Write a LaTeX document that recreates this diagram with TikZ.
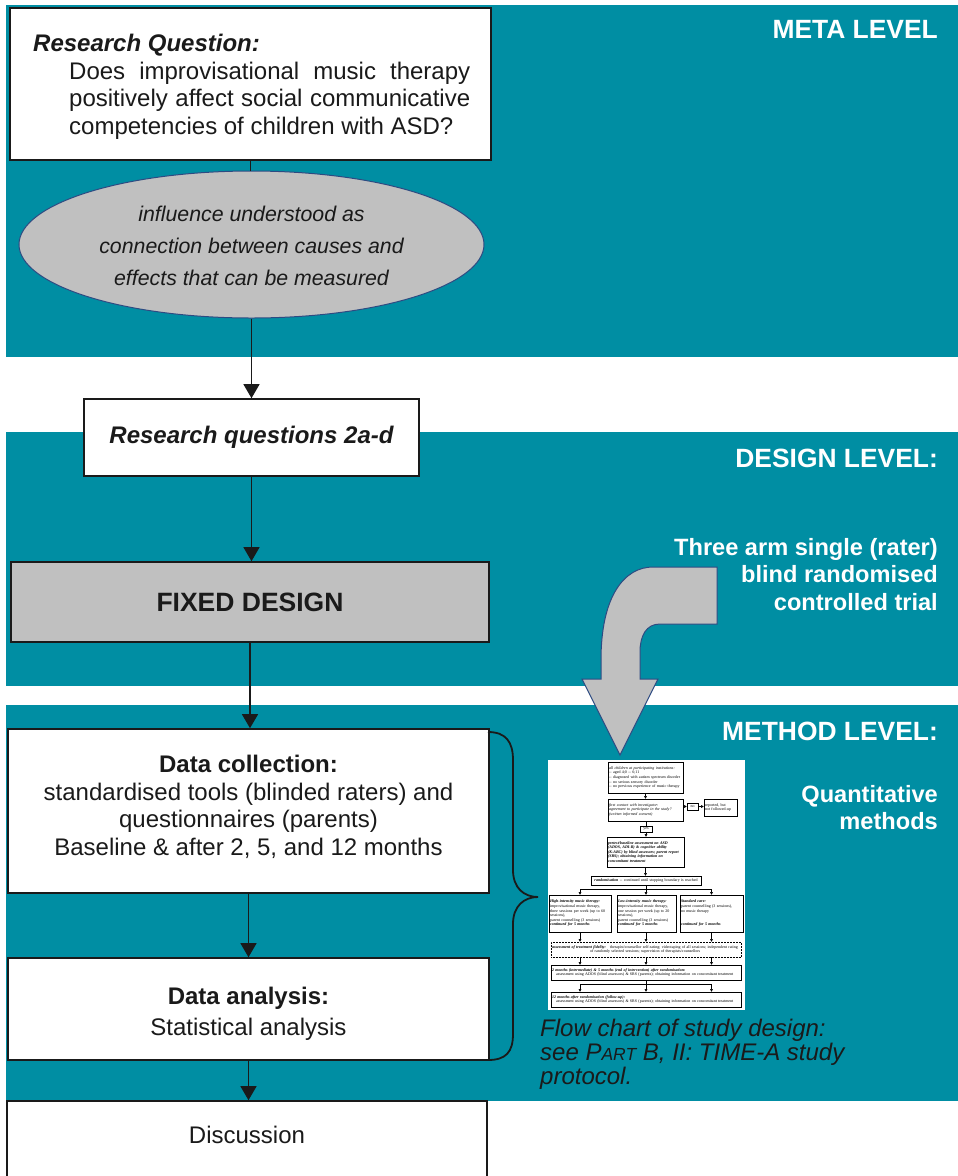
\documentclass[tikz,border=0pt]{standalone}
\usepackage{fontspec}
\setmainfont{Liberation Sans}
\newfontfamily\serifft{Liberation Serif}
\usetikzlibrary{shapes.geometric,arrows.meta}
\definecolor{tealbg}{RGB}{0,142,163}
\definecolor{grayfill}{RGB}{192,192,192}
\definecolor{edgeblue}{RGB}{45,75,130}
\definecolor{ink}{RGB}{26,26,26}
\newcommand\fsz[2]{\fontsize{#1}{#2}\selectfont}
\tikzset{
  band/.style={fill=tealbg, draw=none},
  box/.style={draw=ink, line width=1.6pt, fill=white, inner sep=0pt, align=center, text=ink, font=\fsz{24}{27.5}},
  lvl/.style={text=white, anchor=base east, inner sep=0pt, font=\bfseries\fsz{26.4}{30}},
  sublvl/.style={text=white, anchor=base east, inner sep=0pt, align=right, font=\bfseries\fsz{23.6}{27.5}},
  conn/.style={line width=1.3pt, draw=ink},
  arr/.style={conn, -{Triangle[width=16pt,length=14pt]}},
  fc/.style={draw=black, line width=0.5pt, fill=white, inner sep=1pt, font=\serifft\fsz{4}{4.6}, align=left, anchor=center},
  fca/.style={line width=0.45pt, draw=black, -{Triangle[width=2.6pt,length=2.6pt]}},
  fcl/.style={line width=0.45pt, draw=black},
  txt/.style={inner sep=0pt, text=ink},
}
\begin{document}
\begin{tikzpicture}[x=1pt,y=-1pt]
\useasboundingbox (0,0) rectangle (958,1176);
\clip (0,0) rectangle (958,1176);
\fill[white] (0,0) rectangle (958,1176);
% bands
\fill[band] (6,5) rectangle (958,357);
\fill[band] (6,432) rectangle (958,686);
\fill[band] (6,705) rectangle (958,1101);

% level labels
\node[lvl] (lmeta) at (938,38) {META LEVEL};
\node[lvl] (ldesign) at (938,467) {DESIGN LEVEL:};
\node[sublvl] (l3arm1) at (938,555) {Three arm single (rater)};
\node[sublvl] (l3arm2) at (938,582.5) {blind randomised};
\node[sublvl] (l3arm3) at (938,610) {controlled trial};
\node[lvl] (lmethod) at (938,740) {METHOD LEVEL:};
\node[sublvl] (lq1) at (938,802) {Quantitative};
\node[sublvl] (lq2) at (938,829) {methods};

% research question box
\node[box, minimum width=481, minimum height=152] (rq) at (250.5,84) {};
\node[txt, anchor=base west, font=\bfseries\itshape\fsz{24}{27.5}] (rqh) at (33,51) {Research Question:};
\node[txt, anchor=base west, font=\fsz{24}{27.5}] (rqa) at (69,79) {\makebox[401pt][s]{Does improvisational music therapy}};
\node[txt, anchor=base west, font=\fsz{24}{27.5}] (rqb) at (69,106.5) {\makebox[401pt][s]{positively affect social communicative}};
\node[txt, anchor=base west, font=\fsz{24}{27.5}] (rqc) at (69,134) {competencies of children with ASD?};

% ellipse
\node[ellipse, draw=edgeblue, line width=1pt, fill=grayfill, minimum width=465, minimum height=147, inner sep=0pt] (ell) at (251.5,244.5) {};
\node[txt, align=center, font=\itshape\fsz{21.3}{32}] (ellt) at (251.5,246) {influence understood as\\connection between causes and\\effects that can be measured};

% research questions 2a-d
\node[box, minimum width=335, minimum height=77, font=\bfseries\itshape\fsz{24}{27}] (rq2) at (251.5,437.5) {Research questions 2a-d};

% fixed design
\node[box, fill=grayfill, minimum width=478, minimum height=80, font=\bfseries\fsz{26.5}{30}] (fixed) at (250,602) {FIXED DESIGN};

% data collection
\node[box, minimum width=481, minimum height=164] (dc) at (248.5,811) {};
\node[txt, align=center, font=\fsz{24}{27.6}] (dct) at (248.5,807)
  {\textbf{Data collection:}\\standardised tools (blinded raters) and\\questionnaires (parents)\\Baseline \& after 2, 5, and 12 months};

% data analysis
\node[box, minimum width=481, minimum height=102] (da) at (248.5,1009) {};
\node[txt, align=center, font=\fsz{24}{27.5}] (dat) at (248.5,1014)
  {\textbf{Data analysis:}\\[3.5pt]Statistical analysis};

% discussion
\node[box, minimum width=480, minimum height=80, text depth=12pt] (disc) at (247,1141) {Discussion};

% main connectors
\draw[conn] (rq.south) -- (rq.south |- ell.north);
\draw[arr] (ell.south) -- (ell.south |- rq2.north);
\draw[arr] (rq2.south) -- (rq2.south |- fixed.north);
\draw[arr] (fixed.south) -- (fixed.south |- dc.north);
\draw[arr] (dc.south) -- (dc.south |- da.north);
\draw[arr] (da.south) -- (da.south |- disc.north);

% brace
\draw[line width=1.8pt, draw=ink] (488,732) .. controls (506,732) and (513,742) .. (513,760) -- (513,870)
  .. controls (513,888) and (524,897) .. (538,897)
  .. controls (524,897) and (513,906) .. (513,924) -- (513,1034)
  .. controls (513,1052) and (506,1060) .. (488,1060);

% big curved arrow
\filldraw[fill=grayfill, draw=edgeblue, line width=1pt]
  (717,567) -- (653,567) .. controls (625,567) and (601,595) .. (601,660) -- (601,679) -- (582,679)
  -- (620,755) -- (658,679) -- (640,679) -- (640,652) .. controls (640,636) and (646,624) .. (660,624)
  -- (717,624) -- cycle;

% flow chart image
\fill[white] (548,760) rectangle (745,1010);
\node[fc, text width=73, minimum height=31] (f1) at (645.5,777.5)
  {\textit{all children at participating institutions:}\\-- aged 4;0 -- 6;11\\-- diagnosed with autism spectrum disorder\\-- no serious sensory disorder\\-- no previous experience of music therapy};
\node[fc, text width=73, minimum height=22] (f2) at (645.5,810)
  {\textit{first contact with investigator:}\\\textit{agreement to participate in the study?}\\\textit{(written informed consent)}};
\node[fc, inner sep=0.6pt, minimum width=11, minimum height=7, align=center] (fno) at (692.5,806.5) {no};
\node[fc, text width=31, minimum height=17] (frep) at (720.5,807.5) {reported, but\\not followed-up};
\node[fc, inner sep=0.6pt, minimum width=12, minimum height=6, align=center] (fyes) at (646,829) {yes};
\node[fc, text width=75, minimum height=30] (f3) at (645.5,852)
  {\textbf{\textit{pretest/baseline assessment on ASD}}\\\textbf{\textit{(ADOS, ADI-R) \& cognitive ability}}\\\textbf{\textit{(K-ABC) by blind assessors; parent report}}\\\textbf{\textit{(SRS); obtaining information on}}\\\textbf{\textit{concomitant treatment}}};
\node[fc, text width=108, minimum height=9, align=center] (f4) at (646,880.5)
  {\textbf{\textit{randomisation}} -- continued until stopping boundary is reached};
\coordinate (fbr) at (646,889);
\node[fc, text width=60, minimum height=37] (fa) at (580,913.5)
  {\textbf{\textit{High-intensity music therapy:}}\\improvisational music therapy,\\three sessions per week (up to 60\\sessions),\\parent counselling (3 sessions)\\\textbf{\textit{continued for 5 months}}};
\node[fc, text width=57, minimum height=37] (fb) at (646.5,913.5)
  {\textbf{\textit{Low-intensity music therapy:}}\\improvisational music therapy,\\one session per week (up to 20\\sessions),\\parent counselling (3 sessions)\\\textbf{\textit{continued for 5 months}}};
\node[fc, text width=61, minimum height=37] (fcc) at (711.5,913.5)
  {\textbf{\textit{Standard care:}}\\parent counselling (3 sessions),\\no music therapy\\[9.2pt]\textbf{\textit{continued for 5 months}}};
\node[fc, densely dotted, text width=188, minimum height=15] (fdot) at (646,949.5)
  {\textbf{\textit{assessment of treatment fidelity:}}\quad therapist/counsellor self-rating; videotaping of all sessions; independent rating\\\hspace*{38pt}of randomly selected sessions; supervision of therapists/counsellors};
\node[fc, text width=188, minimum height=15] (fm2) at (646,972.5)
  {\textbf{\textit{2 months (intermediate) \& 5 months (end of intervention) after randomisation:}}\\\hspace*{4pt}assessment using ADOS (blind assessors) \& SRS (parents); obtaining information on concomitant treatment};
\coordinate (fbr2) at (646,984);
\node[fc, text width=188, minimum height=15] (fm12) at (646,999.5)
  {\textbf{\textit{12 months after randomisation (follow-up):}}\\\hspace*{4pt}assessment using ADOS (blind assessors) \& SRS (parents); obtaining information on concomitant treatment};

\draw[fca] (f1.south) -- (f1.south |- f2.north);
\draw[fca] (f2.east |- fno.west) -- (fno.west);
\draw[fca] (fno.east) -- (fno.east -| frep.west);
\draw[fcl] (fyes.north |- f2.south) -- (fyes.north);
\draw[fca] (fyes.south) -- (fyes.south |- f3.north);
\draw[fca] (f3.south) -- (f3.south |- f4.north);
\draw[fcl] (f4.south) -- (fbr);
\draw[fcl] (fa.north |- fbr) -- (fcc.north |- fbr);
\draw[fca] (fa.north |- fbr) -- (fa.north);
\draw[fca] (fbr) -- (fbr |- fb.north);
\draw[fca] (fcc.north |- fbr) -- (fcc.north);
\draw[fca] (fa.south) -- (fa.south |- fdot.north);
\draw[fca] (fbr |- fb.south) -- (fbr |- fdot.north);
\draw[fca] (fcc.south) -- (fcc.south |- fdot.north);
\draw[fca] (fa.south |- fdot.south) -- (fa.south |- fm2.north);
\draw[fca] (fbr |- fdot.south) -- (fbr |- fm2.north);
\draw[fca] (fcc.south |- fdot.south) -- (fcc.south |- fm2.north);
\draw[fcl] (fm2.south) -- (fbr2);
\draw[fcl] (fa.south |- fbr2) -- (fcc.south |- fbr2);
\draw[fca] (fa.south |- fbr2) -- (fa.south |- fm12.north);
\draw[fca] (fbr2) -- (fbr2 |- fm12.north);
\draw[fca] (fcc.south |- fbr2) -- (fcc.south |- fm12.north);

% caption
\node[txt, anchor=base west, font=\itshape\fsz{24}{24}] (cap1) at (540,1036) {Flow chart of study design:};
\node[txt, anchor=base west, font=\itshape\fsz{24}{24}] (cap2) at (540,1060) {see P{\fsz{17.5}{24}ART} B, II: TIME-A study};
\node[txt, anchor=base west, font=\itshape\fsz{24}{24}] (cap3) at (540,1084) {protocol.};
\end{tikzpicture}
\end{document}
